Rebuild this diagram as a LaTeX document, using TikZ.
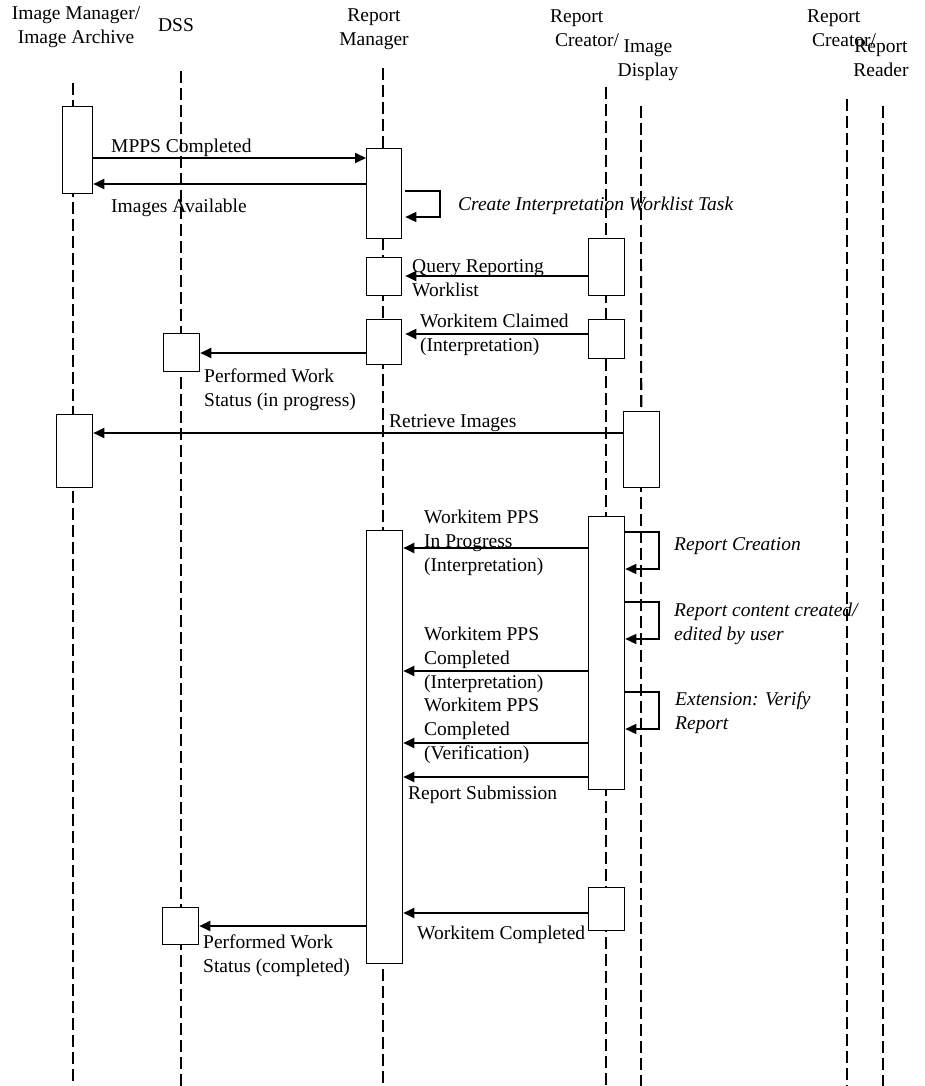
\documentclass[tikz,border=0pt]{standalone}
\usepackage{fontspec}
\setmainfont{Liberation Serif}
\usetikzlibrary{arrows.meta}
\begin{document}
\begin{tikzpicture}[x=1pt,y=-1pt,
  every node/.style={font=\fontsize{19.5}{24}\selectfont},
  lifeline/.style={line width=1.3pt,dash pattern=on 12pt off 5pt},
  act/.style={draw,fill=white,line width=1.3pt,inner sep=0pt,anchor=north west},
  msg/.style={line width=2pt,-{Triangle[length=11pt,width=10pt]}},
  selfmsg/.style={line width=1.5pt,-{Triangle[length=11pt,width=10pt]}},
  lbl/.style={anchor=base west,align=left,inner sep=0pt},
  hdr/.style={anchor=base,align=center,inner sep=0pt},
  ilbl/.style={lbl,font=\fontsize{19.5}{24}\selectfont\itshape}]
\useasboundingbox (0,0) rectangle (925,1086);
% headers (anchor = baseline of last line)
\node[hdr] (hIM) at (76,44) {Image Manager/\\Image Archive};
\node[hdr] (hDSS) at (176,32) {DSS};
\node[hdr] (hRM) at (374,46) {Report\\Manager};
\node[lbl] (hRC) at (550,47) {Report\\\hspace*{5pt}Creator/};
\node[hdr] (hID) at (648,77) {Image\\Display};
\node[lbl] (hRC2) at (807,47) {Report\\\hspace*{5pt}Creator/};
\node[hdr] (hRR) at (881,77) {Report\\Reader};
% lifeline ends
\coordinate (imT) at (73,83);   \coordinate (imB) at (73,1086);
\coordinate (dssT) at (181,71); \coordinate (dssB) at (181,1086);
\coordinate (rmT) at (383,68);  \coordinate (rmB) at (383,1086);
\coordinate (rcT) at (606,87);  \coordinate (rcB) at (606,1086);
\coordinate (idT) at (641,106); \coordinate (idB) at (641,1086);
\coordinate (rc2T) at (847,99); \coordinate (rc2B) at (847,1086);
\coordinate (rrT) at (883,106); \coordinate (rrB) at (883,1086);
\foreach \a in {im,dss,rm,rc,id,rc2,rr} \draw[lifeline] (\a T) -- (\a B);
% activation boxes
\node[act,minimum width=30pt,minimum height=87pt] (im1) at (62,106) {};
\node[act,minimum width=36pt,minimum height=73pt] (im2) at (56,414) {};
\node[act,minimum width=35pt,minimum height=90pt] (rm1) at (366,148) {};
\node[act,minimum width=35pt,minimum height=38pt] (rm2) at (366,257) {};
\node[act,minimum width=35pt,minimum height=45pt] (rm3) at (366,319) {};
\node[act,minimum width=36pt,minimum height=433pt] (rm4) at (366,530) {};
\node[act,minimum width=36pt,minimum height=38pt] (dss1) at (163,333) {};
\node[act,minimum width=36pt,minimum height=37pt] (dss2) at (162,907) {};
\node[act,minimum width=36pt,minimum height=57pt] (rc1) at (588,238) {};
\node[act,minimum width=36pt,minimum height=39pt] (rc2) at (588,319) {};
\node[act,minimum width=36pt,minimum height=273pt] (rc3) at (588,516) {};
\node[act,minimum width=36pt,minimum height=43pt] (rc4) at (588,887) {};
\node[act,minimum width=36pt,minimum height=76pt] (id1) at (623,411) {};
\draw[lifeline] (idT) -- (id1.north);
% messages
\draw[msg] (im1.east |- 0,158) -- (rm1.west |- 0,158);
\node[lbl] (tMPPS) at (111,153) {MPPS Completed};
\draw[msg] (rm1.west |- 0,184) -- (im1.east |- 0,184);
\node[lbl] (tIA) at (111,212) {Images Available};
\draw[selfmsg] ([xshift=3pt]rm1.east |- 0,191) -| (440,217) -- ([xshift=3pt]rm1.east |- 0,217);
\node[ilbl] (tCIW) at (458,211) {Create Interpretation Worklist Task};
\draw[msg] (rc1.west |- 0,276) -- ([xshift=3pt]rm2.east |- 0,276);
\node[lbl] (tQ) at (412,296) {Query Reporting\\Worklist};
\draw[msg] (rc2.west |- 0,334) -- ([xshift=3pt]rm3.east |- 0,334);
\node[lbl] (tWC) at (420,351) {Workitem Claimed\\(Interpretation)};
\draw[msg] (rm3.west |- 0,353) -- (dss1.east |- 0,353);
\node[lbl] (tPW1) at (204,406) {Performed Work\\Status (in progress)};
\draw[msg] (id1.west |- 0,433) -- (im2.east |- 0,433);
\node[lbl] (tRI) at (389,427) {Retrieve Images};
\draw[msg] (rc3.west |- 0,548) -- (rm4.east |- 0,548);
\node[lbl] (tIP) at (424,571) {Workitem PPS\\In Progress\\(Interpretation)};
\draw[selfmsg] (rc3.east |- 0,532) -| (659,569) -- (rc3.east |- 0,569);
\node[ilbl] (tRC) at (674,550) {Report Creation};
\draw[selfmsg] (rc3.east |- 0,602) -| (659,639) -- (rc3.east |- 0,639);
\node[ilbl] (tRCC) at (674,640) {Report content created/\\edited by user};
\draw[msg] (rc3.west |- 0,671) -- (rm4.east |- 0,671);
\node[lbl] (tCI) at (424,688) {Workitem PPS\\Completed\\(Interpretation)};
\draw[selfmsg] (rc3.east |- 0,692) -| (659,729) -- (rc3.east |- 0,729);
\node[ilbl] (tEV) at (675,729) {Extension: Verify\\Report};
\draw[msg] (rc3.west |- 0,743) -- (rm4.east |- 0,743);
\node[lbl] (tCV) at (424,759) {Workitem PPS\\Completed\\(Verification)};
\draw[msg] (rc3.west |- 0,777) -- (rm4.east |- 0,777);
\node[lbl] (tRS) at (408,799) {Report Submission};
\draw[msg] (rc4.west |- 0,913) -- (rm4.east |- 0,913);
\node[lbl] (tWCo) at (417,939) {Workitem Completed};
\draw[msg] (rm4.west |- 0,926) -- (dss2.east |- 0,926);
\node[lbl] (tPW2) at (203,972) {Performed Work\\Status (completed)};
\end{tikzpicture}
\end{document}
